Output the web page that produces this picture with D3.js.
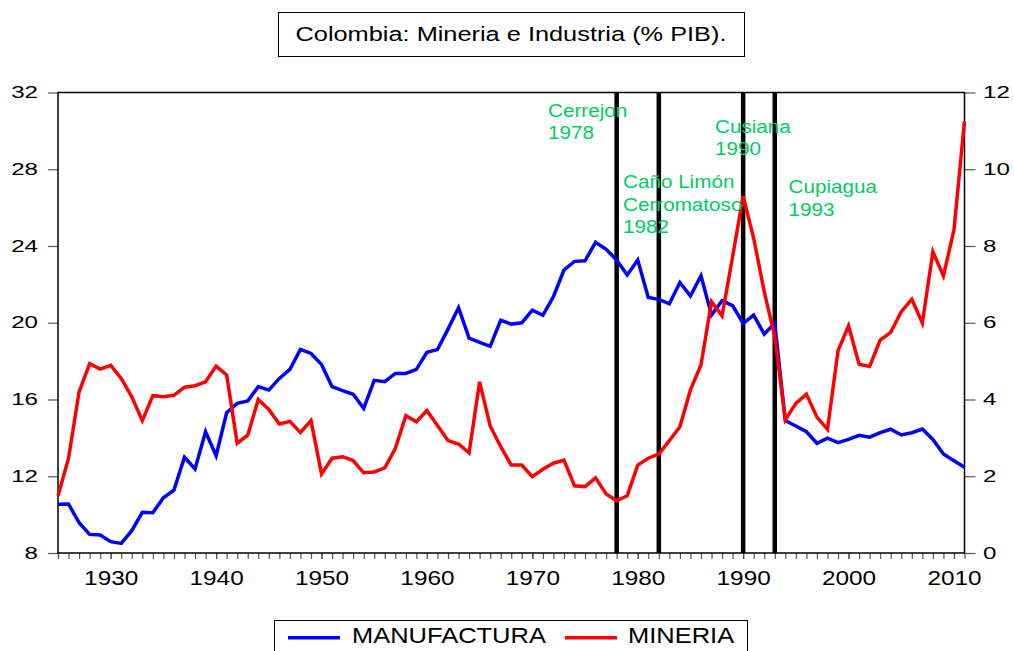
<!DOCTYPE html>
<html lang='en'>
<script src="https://d3js.org/d3.v7.min.js"></script>

<style>
body { margin: 0; background: #fff; }
text { font-family: "Liberation Sans", Arial, sans-serif; }
</style>

<body>
<svg id="chart" width="1014" height="651"></svg>

<script>

// ---- data ----
var title = "Colombia: Mineria e Industria (% PIB).";
var seriesNames = ["MANUFACTURA", "MINERIA"];
var years = d3.range(1925, 2012);

// left axis, % PIB
var manufactura = [
  10.54, 10.55, 9.58, 8.97, 8.94, 8.59, 8.50, 9.16, 10.12, 10.10,
  10.88, 11.28, 12.99, 12.38, 14.32, 13.07, 15.31, 15.80, 15.92, 16.67,
  16.49, 17.10, 17.57, 18.61, 18.40, 17.83, 16.67, 16.46, 16.27, 15.54,
  17.00, 16.93, 17.36, 17.36, 17.57, 18.46, 18.60, 19.67, 20.78, 19.20,
  18.98, 18.77, 20.13, 19.93, 20.00, 20.66, 20.39, 21.36, 22.75, 23.20,
  23.23, 24.19, 23.83, 23.27, 22.49, 23.27, 21.32, 21.22, 20.99, 22.10,
  21.39, 22.45, 20.40, 21.15, 20.89, 19.97, 20.40, 19.41, 19.97, 14.90,
  14.62, 14.32, 13.72, 13.98, 13.75, 13.92, 14.13, 14.04, 14.27, 14.45,
  14.15, 14.27, 14.46, 13.92, 13.16, 12.81, 12.47
];

// right axis, % PIB
var mineria = [
  1.49, 2.47, 4.20, 4.93, 4.79, 4.89, 4.55, 4.07, 3.45, 4.10,
  4.07, 4.11, 4.32, 4.36, 4.46, 4.87, 4.64, 2.86, 3.07, 4.00,
  3.74, 3.36, 3.43, 3.14, 3.45, 2.06, 2.47, 2.51, 2.41, 2.09,
  2.11, 2.22, 2.72, 3.58, 3.42, 3.71, 3.32, 2.93, 2.84, 2.61,
  4.46, 3.31, 2.77, 2.29, 2.29, 1.99, 2.18, 2.34, 2.42, 1.75,
  1.73, 1.96, 1.54, 1.36, 1.49, 2.29, 2.47, 2.58, 2.93, 3.29,
  4.25, 4.90, 6.55, 6.18, 7.72, 9.30, 8.20, 6.81, 5.64, 3.47,
  3.90, 4.14, 3.54, 3.22, 5.27, 5.92, 4.92, 4.86, 5.55, 5.75,
  6.29, 6.61, 5.99, 7.85, 7.22, 8.42, 11.25
];

var leftTicks = [8, 12, 16, 20, 24, 28, 32];
var rightTicks = [0, 2, 4, 6, 8, 10, 12];
var decadeTicks = [1930, 1940, 1950, 1960, 1970, 1980, 1990, 2000, 2010];

var eventYears = [1978, 1982, 1990, 1993];
var eventLabels = [
  ["Cerrejon", "1978"],
  ["Caño Limón", "Cerromatoso", "1982"],
  ["Cusiana", "1990"],
  ["Cupiagua", "1993"]
];

// ---- layout ----
var svg = d3.select("#chart");
var L = 58, R = 964.5, T = 92.5, B = 553;

var x = d3.scaleLinear().domain([1925, 2011]).range([L, R]);
var yL = d3.scaleLinear().domain([8, 32]).range([B, T]);
var yR = d3.scaleLinear().domain([0, 12]).range([B, T]);

// stretch text horizontally around its own anchor point
function stretch(sel, sx) {
  sel.each(function() {
    var t = d3.select(this);
    var tx = +t.attr("x") || 0, ty = +t.attr("y") || 0;
    t.attr("transform", "translate(" + tx + "," + ty + ") scale(" + sx + ",1) translate(" + (-tx) + "," + (-ty) + ")");
  });
}

// title box
svg.append("rect")
  .attr("x", 278.5).attr("y", 12.5).attr("width", 466).attr("height", 44)
  .attr("fill", "none").attr("stroke", "#000").attr("stroke-width", 1);
var tt = svg.append("text")
  .attr("x", 511).attr("y", 41.5)
  .attr("text-anchor", "middle")
  .attr("font-size", "19.5px")
  .text(title);
stretch(tt, 431 / tt.node().getComputedTextLength());

// ---- axes ----
var sxY = 1.42, sxX = 1.16;

var gl = svg.append("g").attr("transform", "translate(" + L + ",0)")
  .call(d3.axisLeft(yL).tickValues(leftTicks).tickSize(10).tickSizeOuter(0).tickPadding(10));
gl.selectAll("text").attr("font-size", "17px").attr("fill", "#000").attr("x", -20 / sxY).attr("dy", "0.3em")
  .attr("transform", "scale(" + sxY + ",1)");

var gr = svg.append("g").attr("transform", "translate(" + R + ",0)")
  .call(d3.axisRight(yR).tickValues(rightTicks).tickSize(11).tickSizeOuter(0));
gr.selectAll("text").attr("font-size", "17px").attr("fill", "#000").attr("x", 18.5 / sxY).attr("dy", "0.3em")
  .attr("transform", "scale(" + sxY + ",1)");

var gm = svg.append("g").attr("transform", "translate(0," + B + ")")
  .call(d3.axisBottom(x).tickValues(years).tickSize(6).tickSizeOuter(0).tickFormat(""));

var gb = svg.append("g").attr("transform", "translate(0," + B + ")")
  .call(d3.axisBottom(x).tickValues(decadeTicks).tickSize(6).tickSizeOuter(0).tickFormat(d3.format("d")).tickPadding(11));
gb.selectAll("text").attr("font-size", "21px").attr("fill", "#000")
  .attr("transform", "scale(" + sxX + ",1)");

svg.selectAll(".domain").remove();
svg.selectAll(".tick line").attr("stroke", "#555").attr("stroke-width", 1.2);

// frame
svg.append("rect")
  .attr("x", L).attr("y", T).attr("width", R - L).attr("height", B - T)
  .attr("fill", "none").attr("stroke", "#000").attr("stroke-width", 1.5);

// ---- event lines ----
svg.selectAll(".event")
  .data(eventYears)
  .enter().append("line")
  .attr("class", "event")
  .attr("x1", function(d) { return x(d); })
  .attr("x2", function(d) { return x(d); })
  .attr("y1", T).attr("y2", B)
  .attr("stroke", "#000").attr("stroke-width", 4.5);

// ---- series ----
var lineL = d3.line().x(function(d, i) { return x(years[i]); }).y(function(d) { return yL(d); });
var lineR = d3.line().x(function(d, i) { return x(years[i]); }).y(function(d) { return yR(d); });

svg.append("path").datum(manufactura)
  .attr("d", lineL).attr("fill", "none")
  .attr("stroke", "#0000ff").attr("stroke-width", 3.5).attr("stroke-linejoin", "miter");

svg.append("path").datum(mineria)
  .attr("d", lineR).attr("fill", "none")
  .attr("stroke", "#ff0000").attr("stroke-width", 3.5).attr("stroke-linejoin", "miter");

// ---- annotations ----
var annoPos = [[548, 116.7], [623, 188.3], [715, 132.7], [788.5, 193.3]];
var probe = svg.append("text").attr("font-size", "17.5px").text("1978");
var sxA = 46 / probe.node().getComputedTextLength();
probe.remove();

eventLabels.forEach(function(lines, k) {
  lines.forEach(function(s, j) {
    var a = svg.append("text")
      .attr("x", annoPos[k][0]).attr("y", annoPos[k][1] + j * 22.6)
      .attr("font-size", "17.5px")
      .attr("fill", "#00cc66")
      .text(s);
    stretch(a, sxA);
  });
});

// ---- legend ----
svg.append("rect")
  .attr("x", 274.5).attr("y", 620.5).attr("width", 473).attr("height", 40)
  .attr("fill", "#fff").attr("stroke", "#000").attr("stroke-width", 1);

var legColors = ["#0000ff", "#ff0000"];
var legLineX = [288, 565];
var legTextX = [352, 628];
var sxL = null;
seriesNames.forEach(function(name, i) {
  svg.append("line")
    .attr("x1", legLineX[i]).attr("x2", legLineX[i] + 52)
    .attr("y1", 637.8).attr("y2", 637.8)
    .attr("stroke", legColors[i]).attr("stroke-width", 3.5);
  var t = svg.append("text")
    .attr("x", legTextX[i]).attr("y", 642.7)
    .attr("font-size", "22px")
    .text(name);
  if (sxL === null) sxL = 194 / t.node().getComputedTextLength();
  stretch(t, sxL);
});

</script>
</body>
</html>
